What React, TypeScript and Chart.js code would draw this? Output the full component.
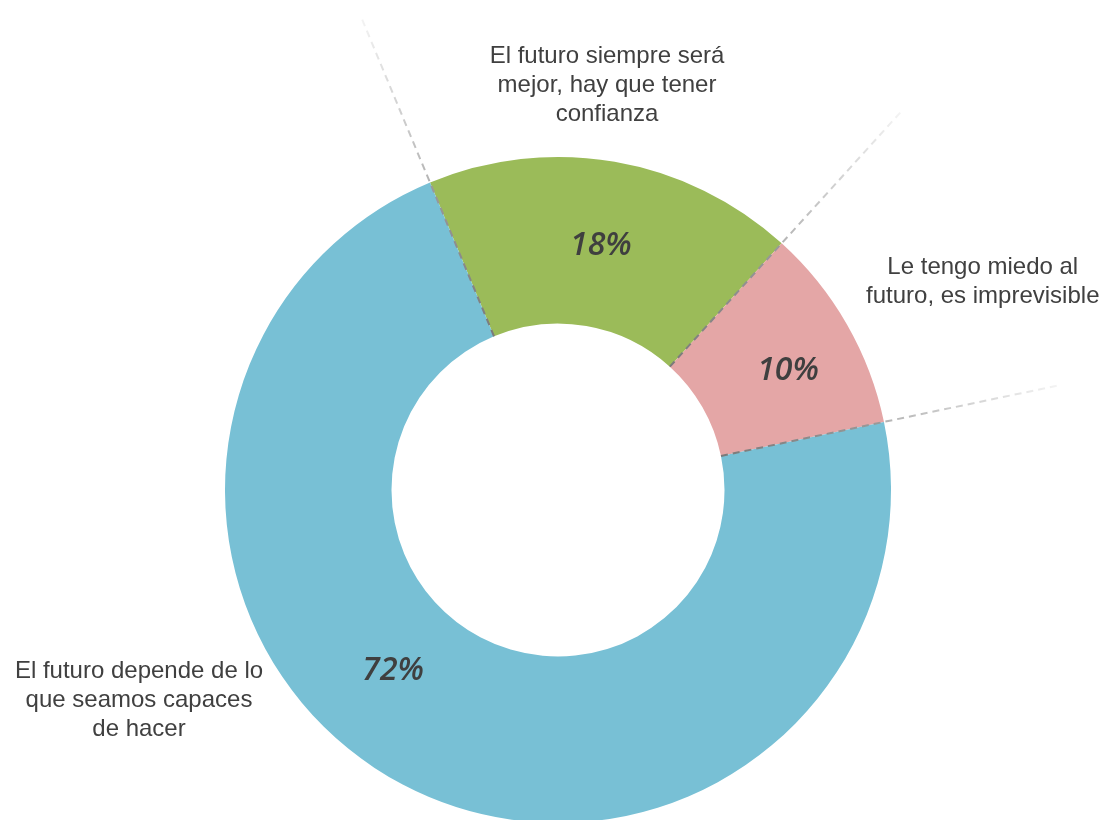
import React, { useEffect, useRef } from "react";
import { Chart, registerables } from "chart.js";

Chart.register(...registerables);

const categories = [
  "El futuro siempre será mejor, hay que tener confianza",
  "Le tengo miedo al futuro, es imprevisible",
  "El futuro depende de lo que seamos capaces de hacer",
];
const categoryLines = [
  ["El futuro siempre será", "mejor, hay que tener", "confianza"],
  ["Le tengo miedo al", "futuro, es imprevisible"],
  ["El futuro depende de lo", "que seamos capaces", "de hacer"],
];
const values = [18, 10, 72];
const percentLabels = ["18%", "10%", "72%"];
const colors = ["#9BBB59", "#E4A6A6", "#78C0D5"];

// label placement (polar, relative to the doughnut) — styling only
const pctPlacement = [
  { dAngle: 0.1, frac: 0.5 },
  { dAngle: 2.1, frac: 0.56 },
  { dAngle: 14.9, frac: 0.46 },
];
const catPlacement = [
  { angle: 6.9, rFactor: 408 / 333 },
  { angle: 63.9, rFactor: 473 / 333 },
  { angle: 243.3, rFactor: 469 / 333 },
];

const overlayPlugin = {
  id: "overlay",
  afterDatasetsDraw(chart: any) {
    const ctx = chart.ctx;
    const meta = chart.getDatasetMeta(0);
    const arcs = meta.data;
    if (!arcs.length) return;
    const a0 = arcs[0];
    const cx = a0.x, cy = a0.y;
    const outer = a0.outerRadius, inner = a0.innerRadius;
    const lineEnd = outer * (512 / 333);

    ctx.save();
    arcs.forEach((arc: any) => {
      const ang = arc.startAngle;
      const x1 = cx + Math.cos(ang) * inner;
      const y1 = cy + Math.sin(ang) * inner;
      const x2 = cx + Math.cos(ang) * lineEnd;
      const y2 = cy + Math.sin(ang) * lineEnd;
      const g = ctx.createLinearGradient(x1, y1, x2, y2);
      const edge = (outer - inner) / (lineEnd - inner);
      g.addColorStop(0, "#7a7a7a");
      g.addColorStop(edge * 0.98, "#9a9a9a");
      g.addColorStop(edge * 1.02, "#b5b5b5");
      g.addColorStop(1, "#f4f4f4");
      ctx.strokeStyle = g;
      ctx.lineWidth = 2;
      ctx.setLineDash([7, 5]);
      ctx.beginPath();
      ctx.moveTo(x1, y1);
      ctx.lineTo(x2, y2);
      ctx.stroke();
    });
    ctx.restore();

    ctx.save();
    ctx.fillStyle = "#3f3f3f";
    ctx.font = "italic 600 32px 'Open Sans'";
    ctx.textAlign = "center";
    ctx.textBaseline = "middle";
    arcs.forEach((arc: any, i: number) => {
      const mid = (arc.startAngle + arc.endAngle) / 2 + (pctPlacement[i].dAngle * Math.PI) / 180;
      const r = inner + (outer - inner) * pctPlacement[i].frac;
      ctx.fillText(percentLabels[i], cx + Math.cos(mid) * r, cy + Math.sin(mid) * r + 2);
    });
    ctx.restore();

    ctx.save();
    ctx.fillStyle = "#404040";
    ctx.font = "24px 'Liberation Sans', Arial, sans-serif";
    ctx.textAlign = "center";
    ctx.textBaseline = "middle";
    const lh = 29;
    categoryLines.forEach((lines, i) => {
      const p = catPlacement[i];
      const ang = ((p.angle - 90) * Math.PI) / 180;
      const r = outer * p.rFactor;
      const x = cx + Math.cos(ang) * r;
      const y = cy + Math.sin(ang) * r;
      const top = y - ((lines.length - 1) * lh) / 2;
      lines.forEach((t, j) => ctx.fillText(t, x, top + j * lh));
    });
    ctx.restore();
  },
};

export default function App() {
  const ref = useRef<HTMLCanvasElement | null>(null);
  useEffect(() => {
    if (!ref.current) return;
    const chart = new Chart(ref.current, {
      type: "doughnut",
      data: {
        labels: categories,
        datasets: [
          {
            data: values,
            backgroundColor: colors,
            borderWidth: 0,
            hoverOffset: 0,
          },
        ],
      },
      options: {
        responsive: false,
        animation: false,
        devicePixelRatio: 1,
        rotation: -22.6,
        cutout: "50%",
        layout: { padding: { top: 157, left: 225, right: 214, bottom: 7 } },
        plugins: { legend: { display: false }, tooltip: { enabled: false } },
        events: [],
      },
      plugins: [overlayPlugin],
    } as any);
    return () => chart.destroy();
  }, []);
  return (
    <div style={{ position: "absolute", left: 0, top: 0, width: 1105, height: 820, overflow: "hidden", background: "#fff" }}>
      <canvas ref={ref} width={1105} height={830} style={{ display: "block" }} />
    </div>
  );
}
